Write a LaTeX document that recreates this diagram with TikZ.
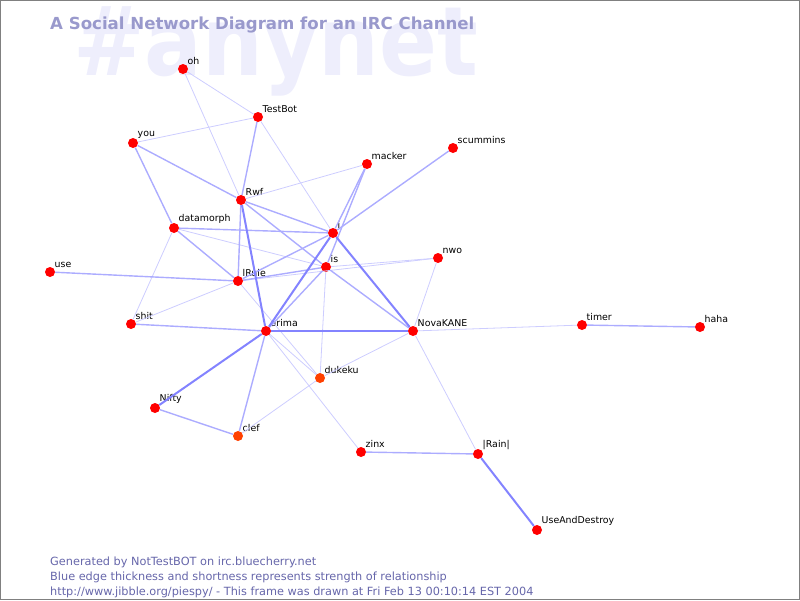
\documentclass[tikz,border=0pt]{standalone}
\usepackage{fontspec}
\setmainfont{DejaVu Sans}
\definecolor{wmark}{RGB}{238,238,252}
\definecolor{ttl}{RGB}{153,153,204}
\definecolor{foot}{RGB}{102,102,170}
\definecolor{edgeb}{RGB}{90,90,255}
\definecolor{burnt}{RGB}{255,64,0}
\begin{document}
\begin{tikzpicture}[x=1pt,y=-1pt,
        pt/.style={circle,fill=red,inner sep=0pt,minimum size=10pt},
        ptb/.style={pt,fill=burnt},
        lbl/.style={font=\fontsize{9.4}{10}\selectfont,inner sep=0.5pt,label distance=0.5pt},
        e1/.style={draw=edgeb!30,line width=0.8pt},
        e2/.style={draw=edgeb!50,line width=1.4pt},
        e3/.style={draw=edgeb!75,line width=2pt}]
        \useasboundingbox (0,0) rectangle (800,600);
        \draw[gray] (0.5,0.5) rectangle (799.5,599.5);
        % watermark and title
        \node[anchor=base west,text=wmark,inner sep=0pt,xscale=0.89] (wm) at (73,75) {\fontsize{96}{96}\selectfont\bfseries \#anynet};
        \node[anchor=base west,text=ttl,inner sep=0pt] (title) at (50,29) {\fontsize{16.6}{20}\selectfont\bfseries A Social Network Diagram for an IRC Channel};
        % nicks
        \node[pt,label={[lbl]45:oh}] (oh) at (183,69) {};
        \node[pt,label={[lbl]45:TestBot}] (testbot) at (258,117) {};
        \node[pt,label={[lbl]45:you}] (you) at (133,143) {};
        \node[pt,label={[lbl]45:Rwf}] (rwf) at (241,200) {};
        \node[pt,label={[lbl]45:macker}] (macker) at (367,164) {};
        \node[pt,label={[lbl]45:scummins}] (scummins) at (453,148) {};
        \node[pt,label={[lbl]45:datamorph}] (datamorph) at (174,228) {};
        \node[pt,label={[lbl]45:i}] (i) at (333,233) {};
        \node[pt,label={[lbl]45:nwo}] (nwo) at (438,258) {};
        \node[pt,label={[lbl]45:use}] (use) at (50,272) {};
        \node[pt,label={[lbl]45:is}] (is) at (326,267) {};
        \node[pt,label={[lbl]45:lRule}] (lrule) at (238,281) {};
        \node[pt,label={[lbl]45:shit}] (shit) at (131,324) {};
        \node[pt,label={[lbl]45:arima}] (arima) at (266,331) {};
        \node[pt,label={[lbl]45:NovaKANE}] (nova) at (413,331) {};
        \node[pt,label={[lbl]45:timer}] (timer) at (582,325) {};
        \node[pt,label={[lbl]45:haha}] (haha) at (700,327) {};
        \node[ptb,label={[lbl]45:dukeku}] (dukeku) at (320,378) {};
        \node[pt,label={[lbl]45:Nifty}] (nifty) at (155,408) {};
        \node[ptb,label={[lbl]45:clef}] (clef) at (238,436) {};
        \node[pt,label={[lbl]45:zinx}] (zinx) at (361,452) {};
        \node[pt,label={[lbl]45:|Rain|}] (rain) at (478,454) {};
        \node[pt,label={[lbl]45:UseAndDestroy}] (uad) at (537,530) {};
        % edges
        \foreach \a/\b in {oh/testbot,oh/rwf,testbot/you,testbot/i,rwf/macker,datamorph/is,datamorph/shit,lrule/shit,lrule/nwo,is/nwo,is/dukeku,lrule/dukeku,arima/dukeku,arima/zinx,clef/dukeku,dukeku/nova,nova/nwo,nova/timer,nova/rain}
                \draw[e1] (\a) -- (\b);
        \foreach \a/\b in {you/rwf,you/datamorph,testbot/rwf,rwf/i,rwf/is,rwf/lrule,datamorph/lrule,i/lrule,i/scummins,i/macker,is/arima,is/nova,is/lrule,arima/shit,arima/clef,nifty/clef,zinx/rain,timer/haha,lrule/use,datamorph/i,macker/is}
                \draw[e2] (\a) -- (\b);
        \foreach \a/\b in {rwf/arima,i/arima,i/nova,arima/nova,rain/uad,arima/nifty}
                \draw[e3] (\a) -- (\b);
        % footer
        \node[anchor=base west,text=foot,inner sep=0pt,align=left,font=\fontsize{11.3}{15}\selectfont] (foot) at (50,595) {Generated by NotTestBOT on irc.bluecherry.net\\Blue edge thickness and shortness represents strength of relationship\\http://www.jibble.org/piespy/ - This frame was drawn at Fri Feb 13 00:10:14 EST 2004};
\end{tikzpicture}
\end{document}
